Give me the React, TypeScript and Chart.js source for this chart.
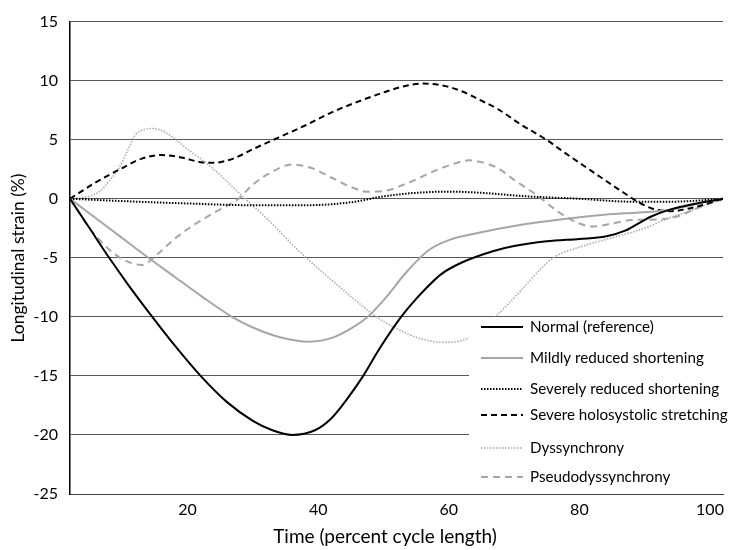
import React, { useEffect, useRef } from "react";
import { Chart, registerables } from "chart.js";
Chart.register(...registerables);

const FONT = "Lato, 'Open Sans', sans-serif";
const GRAY = "#a6a6a6";

const X_TICKS = [20, 40, 60, 80, 100];
const X_TITLE = "Time (percent cycle length)";
const Y_TITLE = "Longitudinal strain (%)";

const NORMAL_X = [2, 5, 8, 11, 14.6, 18, 22, 26, 30, 33, 36, 39.5, 42, 44.5, 46.9, 49.5, 52.7, 54.8, 56.5, 58.8, 62, 67, 70, 75, 80, 84, 87, 89, 91, 94, 98, 102];
const NORMAL_Y = [0, -2.5, -5, -7.35, -10, -12.4, -15, -17.2, -18.8, -19.6, -20, -19.6, -18.6, -16.9, -15, -12.6, -10, -8.6, -7.6, -6.4, -5.4, -4.4, -4.0, -3.6, -3.4, -3.2, -2.7, -2.1, -1.5, -0.9, -0.4, 0];

const MILD_X = [2, 5, 8, 11, 14, 18, 22, 26.8, 30, 34, 38.7, 42, 45, 47.6, 50, 53.7, 56.8, 60, 64.4, 70, 78, 85, 93, 100, 102];
const MILD_Y = [0, -1.25, -2.5, -3.75, -5, -6.6, -8.2, -10, -10.9, -11.7, -12.1, -11.8, -11, -10, -8.6, -6.1, -4.4, -3.5, -2.9, -2.3, -1.7, -1.3, -1.0, -0.2, 0];

const SEVERE_X = [2, 10, 20, 30, 38, 45, 50, 55, 60, 65, 72, 80, 88, 94, 102];
const SEVERE_Y = [0, -0.2, -0.4, -0.55, -0.55, -0.3, 0.2, 0.5, 0.6, 0.5, 0.2, 0, -0.25, -0.25, 0];

const HOLO_X = [2, 6, 10, 13, 16, 19, 22, 24, 27, 30, 34, 38, 42, 46, 50, 53, 56, 59, 62, 65, 67.5, 71, 74.8, 78, 82, 86, 88.8, 91, 94, 97, 102];
const HOLO_Y = [0, 1.4, 2.6, 3.4, 3.7, 3.5, 3.1, 3.05, 3.4, 4.2, 5.2, 6.2, 7.3, 8.2, 9.0, 9.5, 9.75, 9.6, 9.1, 8.3, 7.6, 6.3, 5.05, 3.8, 2.3, 0.8, -0.2, -0.8, -1.05, -0.8, 0];

const DYS_X = [2, 4, 6.5, 8, 9.5, 11, 12, 13, 14.4, 16, 18, 20, 22.7, 25, 28.8, 32, 37, 40, 44, 48.7, 52, 56, 59.3, 62, 64.5, 67.5, 71, 74, 76, 80, 85, 90, 93, 97, 102];
const DYS_Y = [0, 0.1, 0.6, 1.5, 2.6, 4.3, 5.4, 5.8, 5.95, 5.8, 5.1, 4.2, 3.1, 2.0, 0, -1.6, -4.4, -5.9, -7.8, -9.9, -11, -11.9, -12.16, -12, -11.3, -9.8, -7.8, -6, -5, -4.1, -3.3, -2.5, -1.8, -1.0, 0];

const PSEUDO_X = [2, 5, 8, 10, 13, 15.6, 18, 21, 24, 27.8, 30, 33, 36, 39, 42, 45, 47.5, 50, 54, 58, 61, 63, 65, 67.5, 70, 73.5, 77, 80, 82, 85, 88, 92, 95, 98, 102];
const PSEUDO_Y = [0, -2.5, -4.3, -5.1, -5.6, -4.6, -3.4, -2.2, -1.2, 0, 1.2, 2.3, 2.9, 2.6, 1.8, 1.0, 0.6, 0.65, 1.4, 2.4, 3.0, 3.25, 3.1, 2.6, 1.6, 0.3, -1.2, -2.1, -2.35, -2.1, -1.8, -1.75, -1.5, -0.8, 0];

const LABELS = [
  "Normal (reference)",
  "Mildly reduced shortening",
  "Severely reduced shortening",
  "Severe holosystolic stretching",
  "Dyssynchrony",
  "Pseudodyssynchrony",
];

const pts = (xs: number[], ys: number[]) => xs.map((x, i) => ({ x, y: ys[i] }));

const legendPlugin = {
  id: "customLegend",
  afterDatasetsDraw(chart: any) {
    const ctx = chart.ctx;
    ctx.save();
    ctx.fillStyle = "#ffffff";
    ctx.fillRect(469, 317, 261, 175);
    const ys = [327, 358, 389, 415, 448, 477];
    chart.data.datasets.forEach((ds: any, i: number) => {
      const y = ys[i];
      ctx.beginPath();
      ctx.strokeStyle = ds.borderColor;
      ctx.lineWidth = ds.borderWidth;
      ctx.setLineDash(ds.borderDash || []);
      ctx.moveTo(481, y);
      ctx.lineTo(523, y);
      ctx.stroke();
      ctx.setLineDash([]);
      ctx.fillStyle = "#000000";
      ctx.font = `15.2px ${FONT}`;
      ctx.textBaseline = "middle";
      ctx.textAlign = "left";
      ctx.fillText(ds.label, 530, y);
    });
    // axis titles
    ctx.fillStyle = "#000000";
    ctx.textAlign = "center";
    ctx.textBaseline = "middle";
    ctx.font = `19px ${FONT}`;
    ctx.fillText(X_TITLE, 385, 537);
    ctx.translate(18, 258);
    ctx.rotate(-Math.PI / 2);
    ctx.font = `17.5px ${FONT}`;
    ctx.fillText(Y_TITLE, 0, 0);
    ctx.restore();
  },
};

export default function App() {
  const ref = useRef<HTMLCanvasElement>(null);
  useEffect(() => {
    if (!ref.current) return;
    const common = { pointRadius: 0, fill: false, cubicInterpolationMode: "monotone" as const };
    const chart = new Chart(ref.current, {
      type: "line",
      data: {
        datasets: [
          { ...common, label: LABELS[0], data: pts(NORMAL_X, NORMAL_Y), borderColor: "#000000", borderWidth: 2 },
          { ...common, label: LABELS[1], data: pts(MILD_X, MILD_Y), borderColor: GRAY, borderWidth: 2 },
          { ...common, label: LABELS[2], data: pts(SEVERE_X, SEVERE_Y), borderColor: "#000000", borderWidth: 2, borderDash: [1.5, 1.5] },
          { ...common, label: LABELS[3], data: pts(HOLO_X, HOLO_Y), borderColor: "#000000", borderWidth: 2, borderDash: [6, 4] },
          { ...common, label: LABELS[4], data: pts(DYS_X, DYS_Y), borderColor: GRAY, borderWidth: 1.5, borderDash: [1.5, 1.5] },
          { ...common, label: LABELS[5], data: pts(PSEUDO_X, PSEUDO_Y), borderColor: GRAY, borderWidth: 2, borderDash: [7, 5] },
        ],
      },
      options: {
        animation: false,
        responsive: true,
        maintainAspectRatio: false,
        layout: { padding: { top: 19, right: 4, left: 0, bottom: 0 } },
        plugins: { legend: { display: false }, tooltip: { enabled: false } },
        scales: {
          x: {
            type: "linear",
            min: 2,
            max: 102,
            afterBuildTicks: (s: any) => {
              s.ticks = X_TICKS.map((v) => ({ value: v }));
            },
            afterFit: (s: any) => {
              s.height = 56;
            },
            grid: { display: false, drawTicks: false },
            border: { display: true, color: "#404040", width: 1 },
            ticks: { color: "#000", font: { family: FONT, size: 16 }, padding: 6, maxRotation: 0, autoSkip: false },
          },
          y: {
            min: -25,
            max: 15,
            afterFit: (s: any) => {
              s.width = 70;
            },
            ticks: { stepSize: 5, color: "#000", font: { family: FONT, size: 16 }, padding: 12 },
            grid: { color: "#595959", lineWidth: 1, drawTicks: false },
            border: { display: true, color: "#000000", width: 1.5 },
          },
        },
      },
      plugins: [legendPlugin],
    });
    return () => chart.destroy();
  }, []);
  return (
    <div style={{ position: "absolute", left: 0, top: 0, width: 730, height: 550, background: "#fff" }}>
      <canvas ref={ref} />
    </div>
  );
}
